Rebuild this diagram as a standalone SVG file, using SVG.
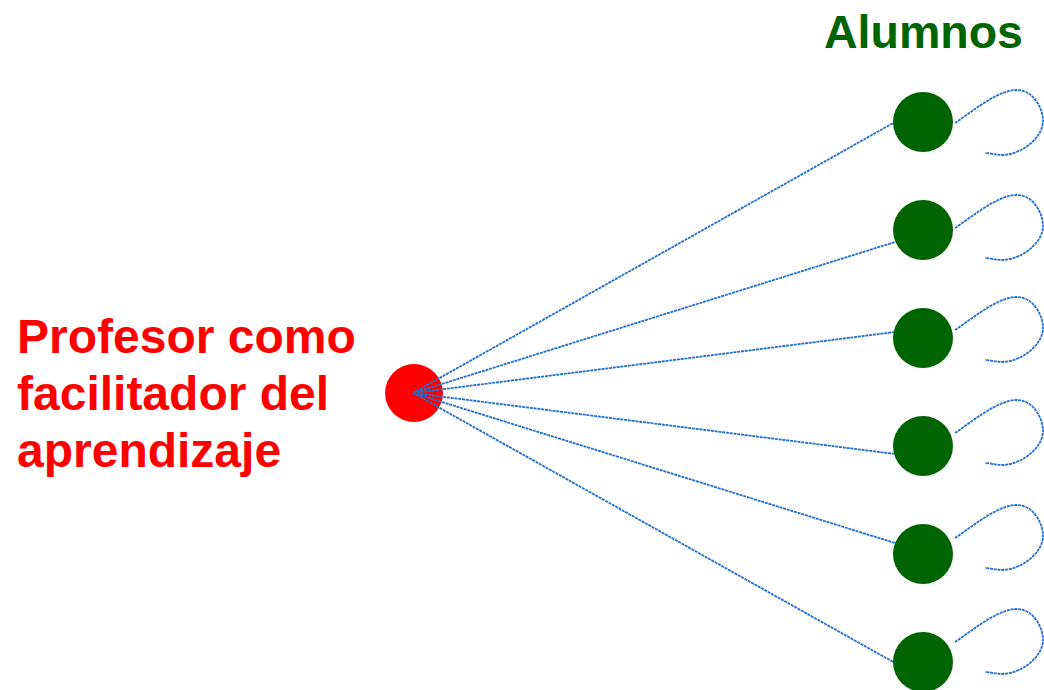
<svg xmlns="http://www.w3.org/2000/svg" width="1044" height="690" viewBox="0 0 1044 690">
<defs>
<style>
.lbl{font-family:"Liberation Sans",Arial,sans-serif;font-weight:bold}
.big{font-size:48px}
.ttl{font-size:46.5px}
.red{fill:#ff0000}
.grn{fill:#006400}
.con{stroke:#1f6fcb;stroke-width:1.8;fill:none;stroke-dasharray:3 0.8}
</style>
<path id="loop" d="M0,0 C17,-11 42,-33 62,-33 C78,-33 88,-15 88,-2 C88,14 68,31 48,32 C40,32 35,30 30,30"/>
</defs>
<rect width="1044" height="690" fill="#ffffff"/>
<g id="profesor">
<circle class="red" cx="414" cy="393" r="29"/>
<text class="lbl big red" x="17" y="353">Profesor como</text>
<text class="lbl big red" x="17" y="410">facilitador del</text>
<text class="lbl big red" x="17" y="467">aprendizaje</text>
</g>
<g id="connectors" class="con">
<line x1="413" y1="393" x2="895" y2="122"/>
<line x1="413" y1="393" x2="895" y2="242"/>
<line x1="413" y1="393" x2="895" y2="332"/>
<line x1="413" y1="393" x2="895" y2="454"/>
<line x1="413" y1="393" x2="895" y2="543"/>
<line x1="413" y1="393" x2="895" y2="663"/>
<use href="#loop" transform="translate(955,123)"/>
<use href="#loop" transform="translate(955,228)"/>
<use href="#loop" transform="translate(955,330)"/>
<use href="#loop" transform="translate(955,433)"/>
<use href="#loop" transform="translate(955,538)"/>
<use href="#loop" transform="translate(955,642)"/>
</g>
<g id="alumnos-title">
<text class="lbl ttl grn" x="824" y="48">Alumnos</text>
</g>
<g id="alumno1"><circle class="grn" cx="923" cy="122" r="30"/></g>
<g id="alumno2"><circle class="grn" cx="923" cy="230" r="30"/></g>
<g id="alumno3"><circle class="grn" cx="923" cy="338" r="30"/></g>
<g id="alumno4"><circle class="grn" cx="923" cy="446" r="30"/></g>
<g id="alumno5"><circle class="grn" cx="923" cy="554" r="30"/></g>
<g id="alumno6"><circle class="grn" cx="923" cy="662" r="30"/></g>
</svg>
